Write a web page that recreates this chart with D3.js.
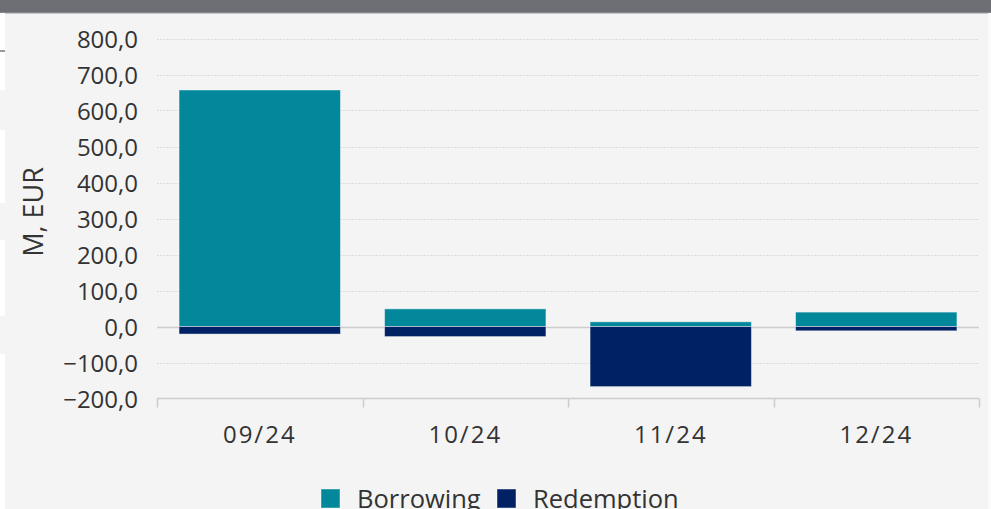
<!DOCTYPE html>
<html>
<head>
<meta charset="utf-8">
<script src="https://cdn.jsdelivr.net/npm/d3@7"></script>
<style>
  html, body { margin: 0; padding: 0; background: #ffffff; }
  svg { display: block; }
  text { font-family: "Open Sans", "Noto Sans", sans-serif; }
</style>
</head>
<body>
<svg id="chart" width="991" height="509"></svg>
<script>
// Monthly borrowing and redemption, millions of EUR
const categories = ["09/24", "10/24", "11/24", "12/24"];
const borrowing = [657, 49, 13, 40];
const redemption = [-21, -28, -167, -12];
const yTicks = [-200, -100, 0, 100, 200, 300, 400, 500, 600, 700, 800];
const seriesNames = ["Borrowing", "Redemption"];
const seriesColors = ["#03879b", "#002264"];

const width = 991, height = 509;
const svg = d3.select("#chart");

// panel background and header strip
svg.append("rect").attr("x", 0).attr("y", 0).attr("width", width).attr("height", height).attr("fill", "#f4f4f4");
svg.append("rect").attr("x", 0).attr("y", 0).attr("width", width).attr("height", 13).attr("fill", "#6e6f74");
svg.append("rect").attr("x", 0).attr("y", 12.5).attr("width", width).attr("height", 1).attr("fill", "#9a9ba0");

// page edge showing at the left and right of the panel
const edgeBands = [[13, 90], [130, 203], [240, 316], [354, 509]];
edgeBands.forEach(([a, b]) => {
  svg.append("rect").attr("x", 0).attr("y", a).attr("width", 5).attr("height", b - a).attr("fill", "#ffffff");
});
svg.append("rect").attr("x", 0).attr("y", 50.5).attr("width", 5).attr("height", 1).attr("fill", "#333333");
svg.append("rect").attr("x", 988).attr("y", 13).attr("width", 3).attr("height", height - 13).attr("fill", "#fafafa");

const plotLeft = 157, plotRight = 979, plotTop = 38.5, plotBottom = 398.5;

const x = d3.scaleBand()
  .domain(categories)
  .range([plotLeft, plotRight])
  .paddingInner(0.2146)
  .paddingOuter(0.1073);

const y = d3.scaleLinear()
  .domain([-200, 800])
  .range([plotBottom, plotTop]);

const locale = d3.formatLocale({ decimal: ",", thousands: " ", grouping: [3], currency: ["", " €"], minus: "\u2212" });
const fmt = locale.format(".1f");

// dotted gridlines
const grid = svg.append("g");
yTicks.forEach(t => {
  if (t === -200) return;
  grid.append("line")
    .attr("x1", plotLeft).attr("x2", plotRight)
    .attr("y1", Math.round(y(t)) + 0.5).attr("y2", Math.round(y(t)) + 0.5)
    .attr("stroke", t === 0 ? "#cccccc" : "#dcdcdc")
    .attr("stroke-width", t === 0 ? 1.5 : 1)
    .attr("stroke-dasharray", t === 0 ? null : "2,1");
});

// y axis labels
const yAxis = d3.axisLeft(y).tickValues(yTicks).tickFormat(fmt).tickSize(0).tickPadding(19);
const yg = svg.append("g").attr("transform", `translate(${plotLeft},0)`).call(yAxis);
yg.select(".domain").remove();
yg.selectAll("text")
  .attr("font-family", "'Open Sans', 'Noto Sans', sans-serif")
  .attr("font-size", 24)
  .attr("fill", "#333333")
  .attr("dy", "0.36em");

// y axis title
svg.append("text")
  .attr("transform", "translate(43,212) rotate(-90)")
  .attr("text-anchor", "middle")
  .attr("font-size", 27)
  .attr("fill", "#333333")
  .text("M, EUR");

// bars
const rows = categories.map((c, i) => ({ c, vals: [borrowing[i], redemption[i]] }));
const barG = svg.append("g");
rows.forEach(r => {
  r.vals.forEach((v, k) => {
    const y0 = y(0), y1 = y(v);
    barG.append("rect")
      .attr("x", x(r.c))
      .attr("width", x.bandwidth())
      .attr("y", Math.min(y0, y1))
      .attr("height", Math.abs(y1 - y0))
      .attr("fill", seriesColors[k])
      .attr("stroke", "rgba(255,255,255,0.45)")
      .attr("stroke-width", 1);
  });
});

// x axis
const xAxis = d3.axisBottom(x).tickSize(0).tickPadding(27);
const xg = svg.append("g").attr("transform", `translate(0,${plotBottom})`).call(xAxis);
xg.select(".domain").remove();
xg.selectAll("text")
  .attr("font-family", "'Open Sans', 'Noto Sans', sans-serif")
  .attr("font-size", 24)
  .attr("letter-spacing", "2px")
  .attr("fill", "#333333");
svg.append("line")
  .attr("x1", plotLeft).attr("x2", plotRight)
  .attr("y1", plotBottom).attr("y2", plotBottom)
  .attr("stroke", "#cccccc").attr("stroke-width", 1.5);
const edges = categories.map(c => x(c) - x.step() * x.paddingInner() / 2);
edges.push(plotRight);
edges.forEach(e => {
  svg.append("line")
    .attr("x1", Math.round(e) + 0.5).attr("x2", Math.round(e) + 0.5)
    .attr("y1", plotBottom).attr("y2", plotBottom + 9)
    .attr("stroke", "#cccccc").attr("stroke-width", 1.5);
});

// legend
const legendX = [321, 497];
seriesNames.forEach((name, k) => {
  svg.append("rect")
    .attr("x", legendX[k]).attr("y", 489)
    .attr("width", 19).attr("height", 19)
    .attr("fill", seriesColors[k])
    .attr("stroke", "rgba(255,255,255,0.45)");
  svg.append("text")
    .attr("x", legendX[k] + 36).attr("y", 508)
    .attr("font-size", 25.5)
    .attr("fill", "#333333")
    .text(name);
});
</script>
</body>
</html>
